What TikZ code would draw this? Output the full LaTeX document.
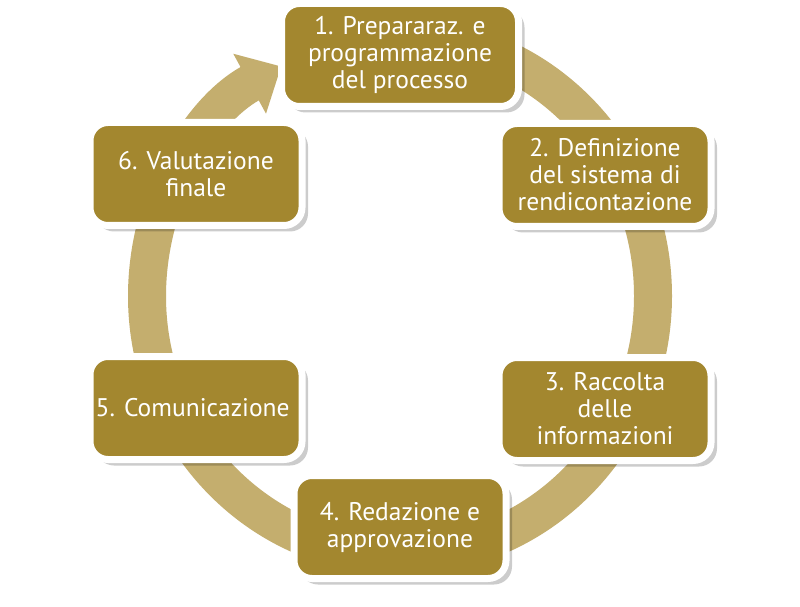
\documentclass[tikz,border=0pt]{standalone}
\usepackage{fontspec}
\setmainfont{PT Sans}
\usepackage{tikz}
\usetikzlibrary{positioning,shapes,shadows,arrows.meta}
\definecolor{oro}{RGB}{163,135,47}
\definecolor{oroanello}{RGB}{196,174,110}
\tikzstyle{fase}=[rectangle, rounded corners=18pt, draw=white, line width=7pt, fill=oro, text=white, align=center, minimum width=212pt, minimum height=103pt, inner sep=2pt, font=\fontsize{25.5}{27}\selectfont, drop shadow={shadow xshift=6pt, shadow yshift=-6pt, opacity=0.2, fill=black}]
\tikzstyle{anello}=[draw=oroanello, line width=38pt, -{Triangle[width=66pt,length=36pt]}]

\begin{document}
\begin{tikzpicture}[x=1pt, y=1pt]
        \useasboundingbox[fill=white] (0,0) rectangle (800,606);
        \coordinate(centro) at (400,310);
        % anello
        \draw[anello] (centro) ++(0,260) arc[start angle=90, end angle=-242, x radius=253, y radius=260];
        \node(preparazione)[fase, minimum width=237pt] at (400,551){
            1. Prepararaz. e\\programmazione\\del processo
        };
        \node(definizione)[fase] at (605,431){
            2. Definizione\\del sistema di\\rendicontazione
        };
        \node(raccolta)[fase, below=124pt of definizione]{
            3. Raccolta\\delle\\informazioni
        };
        \node(redazione)[fase] at (400,79){
            4. Redazione e\\approvazione
        };
        \node(valutazione)[fase] at (196,432){
            6. Valutazione\\finale
        };
        \node(comunicazione)[fase, below=124pt of valutazione]{
            5. Comunicazione
        };
    \end{tikzpicture}
\end{document}
